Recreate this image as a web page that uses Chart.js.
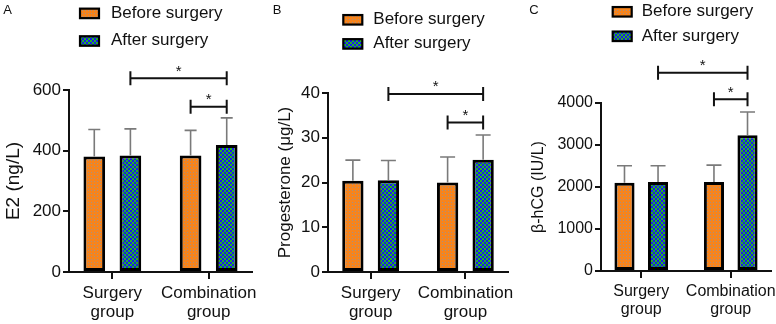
<!DOCTYPE html>
<html><head><meta charset="utf-8">
<script src="https://cdn.jsdelivr.net/npm/chart.js@4"></script>
<style>
html,body{margin:0;padding:0;background:#fff;}
#wrap{position:relative;width:776px;height:324px;overflow:hidden;background:#fff;}
canvas{position:absolute;top:0;}
</style></head><body>
<div id="wrap">
<canvas id="cA" width="258" height="324" style="left:0px"></canvas>
<canvas id="cB" width="259" height="324" style="left:258px"></canvas>
<canvas id="cC" width="259" height="324" style="left:517px"></canvas>
</div>
<script>
// ---- data ----
const categories = [['Surgery', 'group'], ['Combination', 'group']];
const seriesNames = ['Before surgery', 'After surgery'];
const panelLetters = ['A', 'B', 'C'];
const yTitles = ['E2 (ng/L)', 'Progesterone (μg/L)', 'β-hCG (IU/L)'];

const e2Before = [381, 384];
const e2After = [384, 419];
const e2BeforeSD = [89, 83];
const e2AfterSD = [88, 89];
const e2Ticks = [0, 200, 400, 600];
const e2Brackets = [639, 545];

const progBefore = [20.4, 20.0];
const progAfter = [20.5, 25.1];
const progBeforeSD = [4.6, 5.7];
const progAfterSD = [4.4, 5.5];
const progTicks = [0, 10, 20, 30, 40];
const progBrackets = [39.8, 33.4];

const hcgBefore = [2100, 2120];
const hcgAfter = [2120, 3235];
const hcgBeforeSD = [405, 402];
const hcgAfterSD = [385, 552];
const hcgTicks = [0, 1000, 2000, 3000, 4000];
const hcgBrackets = [4720, 4090];

// ---- styles ----
const FONT = "'Liberation Sans', Arial, Helvetica, sans-serif";
function makeOrange() {
  const c = document.createElement('canvas'); c.width = 3; c.height = 3;
  const x = c.getContext('2d');
  x.fillStyle = '#f7841c'; x.fillRect(0, 0, 3, 3);
  x.fillStyle = '#a89080'; x.fillRect(1, 1, 1, 1);
  return x.createPattern(c, 'repeat');
}
function makeChecker() {
  const c = document.createElement('canvas'); c.width = 4; c.height = 4;
  const x = c.getContext('2d');
  x.fillStyle = '#25b325'; x.fillRect(0, 0, 4, 4);
  x.fillStyle = '#1a1aee'; x.fillRect(0, 0, 2, 2); x.fillRect(2, 2, 2, 2);
  return x.createPattern(c, 'repeat');
}
const orangePat = makeOrange();
const checkerPat = makeChecker();
const fills = [orangePat, checkerPat];

const annot = {
  id: 'annot',
  afterDatasetsDraw(chart, args, o) {
    const ctx = chart.ctx, y = chart.scales.y;
    o.sd.forEach((sdArr, di) => {
      const meta = chart.getDatasetMeta(di);
      meta.data.forEach((bar, i) => {
        const v = chart.data.datasets[di].data[i].y;
        const top = y.getPixelForValue(v + sdArr[i]);
        ctx.save();
        ctx.strokeStyle = '#7a7a7a'; ctx.lineWidth = 1.6;
        ctx.beginPath();
        ctx.moveTo(bar.x, bar.y); ctx.lineTo(bar.x, top);
        ctx.moveTo(bar.x - o.cap / 2, top); ctx.lineTo(bar.x + o.cap / 2, top);
        ctx.stroke();
        ctx.restore();
      });
    });
  },
  afterDraw(chart, args, o) {
    const ctx = chart.ctx, y = chart.scales.y;
    ctx.save();
    o.brackets.forEach(b => {
      const x1 = chart.getDatasetMeta(b.from[0]).data[b.from[1]].x;
      const x2 = chart.getDatasetMeta(b.to[0]).data[b.to[1]].x;
      const py = y.getPixelForValue(b.value);
      ctx.strokeStyle = '#111'; ctx.lineWidth = 2;
      ctx.beginPath();
      ctx.moveTo(x1, py); ctx.lineTo(x2, py);
      ctx.moveTo(x1, py - 7); ctx.lineTo(x1, py + 7);
      ctx.moveTo(x2, py - 7); ctx.lineTo(x2, py + 7);
      ctx.stroke();
      ctx.fillStyle = '#111'; ctx.font = '15px ' + FONT;
      ctx.textAlign = 'center'; ctx.textBaseline = 'alphabetic';
      ctx.fillText('*', (x1 + x2) / 2, py - 2.5);
    });
    const L = o.legend;
    seriesNames.forEach((name, i) => {
      const cy = L.y[i];
      ctx.fillStyle = fills[i];
      ctx.fillRect(L.x, cy - 4.75, 19, 9.5);
      ctx.strokeStyle = '#000'; ctx.lineWidth = 2.2;
      ctx.strokeRect(L.x, cy - 4.75, 19, 9.5);
      ctx.fillStyle = '#111'; ctx.font = '17px ' + FONT;
      ctx.textAlign = 'left'; ctx.textBaseline = 'alphabetic';
      ctx.fillText(name, L.tx, cy + 4.4);
    });
    ctx.fillStyle = '#111'; ctx.font = '13px ' + FONT;
    ctx.textAlign = 'left'; ctx.textBaseline = 'alphabetic';
    ctx.fillText(o.letter, o.letterX, 14);
    ctx.restore();
  }
};

function makeChart(id, cfg) {
  const ds = (vals, k) => ({
    label: seriesNames[k],
    data: categories.map((c, i) => ({ x: i, y: vals[i] })),
    backgroundColor: fills[k],
    borderColor: '#000',
    borderWidth: 3,
    borderSkipped: false,
    categoryPercentage: 0.75,
    barPercentage: 0.6
  });
  return new Chart(document.getElementById(id), {
    type: 'bar',
    data: { datasets: [ds(cfg.before, 0), ds(cfg.after, 1)] },
    options: {
      responsive: false, animation: false, devicePixelRatio: 1,
      layout: { autoPadding: false, padding: { top: cfg.top, right: cfg.right, left: 0, bottom: 0 } },
      plugins: {
        legend: { display: false }, tooltip: { enabled: false },
        annot: {
          sd: [cfg.beforeSD, cfg.afterSD], cap: cfg.cap,
          brackets: [
            { from: [1, 0], to: [1, 1], value: cfg.brackets[0] },
            { from: [0, 1], to: [1, 1], value: cfg.brackets[1] }
          ],
          legend: cfg.legend, letter: cfg.letter, letterX: cfg.letterX
        }
      },
      scales: {
        x: {
          type: 'linear', min: -0.45, max: 1.45, bounds: 'data', offset: false,
          afterBuildTicks: s => { s.ticks = categories.map((c, i) => ({ value: i })); },
          afterFit: s => { s.height = cfg.xH; s.paddingLeft = 0; s.paddingRight = 0; },
          ticks: { callback: v => categories[v], color: '#111', font: { family: FONT, size: cfg.fSize, lineHeight: 1.12 }, padding: 5, autoSkip: false, maxRotation: 0 },
          grid: { offset: false, drawOnChartArea: false, tickLength: 7, color: '#111', lineWidth: 2 },
          border: { display: true, color: '#111', width: 2 }
        },
        y: {
          min: cfg.ticks[0], max: cfg.ticks[cfg.ticks.length - 1], bounds: 'data',
          afterBuildTicks: s => { s.ticks = cfg.ticks.map(v => ({ value: v })); },
          afterFit: s => { s.width = cfg.yW; s.paddingTop = 0; s.paddingBottom = 0; },
          ticks: { callback: v => String(v), color: '#111', font: { family: FONT, size: cfg.fSize }, padding: 2 },
          grid: { drawOnChartArea: false, tickLength: 6, color: '#111', lineWidth: 2 },
          border: { display: true, color: '#111', width: 2 },
          title: { display: true, text: cfg.title, color: '#111', font: { family: FONT, size: cfg.tSize, lineHeight: 1.2 }, padding: { top: cfg.tPad, bottom: 0 } }
        }
      }
    },
    plugins: [annot]
  });
}

makeChart('cA', {
  before: e2Before, after: e2After, beforeSD: e2BeforeSD, afterSD: e2AfterSD,
  ticks: e2Ticks, brackets: e2Brackets, title: yTitles[0],
  yW: 69, right: 6, top: 90, xH: 52, tPad: 2.6, tSize: 19, fSize: 17, cap: 12,
  legend: { x: 80, tx: 111, y: [13.4, 41] }, letter: panelLetters[0], letterX: 3.3
});
makeChart('cB', {
  before: progBefore, after: progAfter, beforeSD: progBeforeSD, afterSD: progAfterSD,
  ticks: progTicks, brackets: progBrackets, title: yTitles[1],
  yW: 70, right: 9, top: 93, xH: 52, tPad: 16.8, tSize: 17, fSize: 17, cap: 15,
  legend: { x: 85.3, tx: 115.3, y: [19.8, 43.9] }, letter: panelLetters[1], letterX: 14.7
});
makeChart('cC', {
  before: hcgBefore, after: hcgAfter, beforeSD: hcgBeforeSD, afterSD: hcgAfterSD,
  ticks: hcgTicks, brackets: hcgBrackets, title: yTitles[2],
  yW: 84, right: 5, top: 103, xH: 53, tPad: 12.4, tSize: 16, fSize: 16, cap: 15,
  legend: { x: 95.7, tx: 124.7, y: [11.8, 36.3] }, letter: panelLetters[2], letterX: 12.3
});
</script>
</body></html>
